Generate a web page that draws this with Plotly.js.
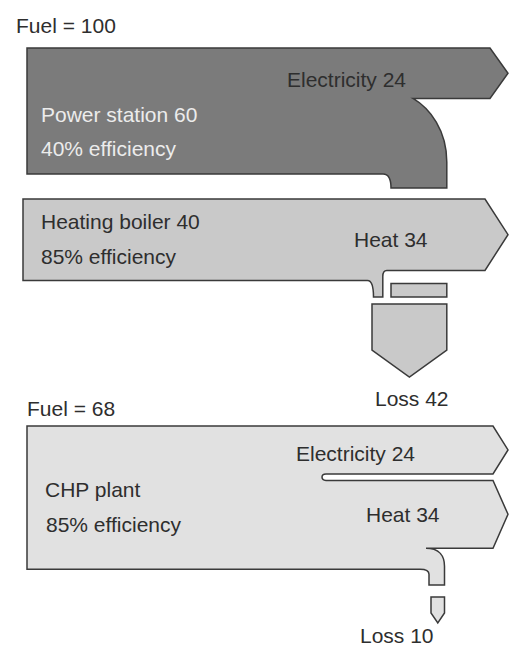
<!DOCTYPE html>
<html>
<head>
<meta charset="utf-8">
<script src="https://cdn.plot.ly/plotly-3.0.1.min.js"></script>
<style>html,body{margin:0;padding:0;background:#fff;}#chart{width:509px;height:648px;}</style>
</head>
<body>
<div id="chart"></div>
<script>
// ---- data ----
const fuelTotals = [100, 68];
const blockNames = ['Power station', 'Heating boiler', 'CHP plant'];
const blockInputs = [60, 40, 68];
const blockEfficiency = [40, 85, 85];
const electricityOut = [24, 0, 24];
const heatOut = [0, 34, 34];
const lossOut = [36, 6, 10];
const totalLoss = [42, 10];

// ---- layout constants (pixel-like data coords) ----
const k = 2.1;    // px per unit for main flows
const kL = 1.55;  // px per unit for loss pipes
const line = {color: '#3a3a3a', width: 1.5};
const fills = ['#7b7b7b', '#c9c9c9', '#e1e1e1'];
const f = v => v.toFixed(1);
const shapes = [];
function addPath(pts, fill) {
  shapes.push({type: 'path', xref: 'x', yref: 'y', path: pts, fillcolor: fill, line: line, layer: 'above'});
}

// Block 0: Power station
(function () {
  const X0 = 27, T = 48, H = blockInputs[0] * k, B = T + H;
  const e = electricityOut[0] * k, AB = 490, TIP = 508;
  const lx = 391, lr = lx + lossOut[0] * kL, ob = 188;
  const p = `M ${X0},${T} L ${AB},${T} L ${TIP},${f(T + e / 2)} L ${AB},${f(T + e)} L 413,${f(T + e)} ` +
    `C 430,${f(T + e + 10)} ${f(lr)},${f(T + e + 32)} ${f(lr)},162 L ${f(lr)},${ob} L ${lx},${ob} ` +
    `C ${lx},${f(B + 5)} ${lx - 3},${f(B)} ${lx - 8},${f(B)} L ${X0},${f(B)} Z`;
  addPath(p, fills[0]);
  // loss pipe passing below the boiler
  addPath(`M ${lx},283.5 L ${f(lr)},283.5 L ${f(lr)},297 L ${lx},297 Z`, fills[1]);
})();

// Block 1: Heating boiler
(function () {
  const X0 = 23, T = 199, H = blockInputs[1] * k * 0.97, B = T + H;
  const h = heatOut[1] * k, HB = T + h, AB = 485, TIP = 508;
  const tl = 373.5, tr = tl + lossOut[1] * kL, tb = 297;
  const p = `M ${X0},${T} L ${AB},${T} L ${TIP},${f(T + h / 2)} L ${AB},${f(HB)} L ${f(tr + 4)},${f(HB)} ` +
    `Q ${f(tr)},${f(HB)} ${f(tr)},${f(HB + 6)} L ${f(tr)},${tb} L ${tl},${tb} ` +
    `C ${tl},${f(B + 7)} ${tl - 2},${f(B)} ${tl - 6},${f(B)} L ${X0},${f(B)} Z`;
  addPath(p, fills[1]);
  // combined loss arrow (Loss 42)
  const px0 = tl - 1.5, px1 = 391 + lossOut[0] * kL, cx = (px0 + px1) / 2;
  addPath(`M ${px0},304 L ${f(px1)},304 L ${f(px1)},350 L ${f(cx)},377 L ${px0},350 Z`, fills[1]);
})();

// Block 2: CHP plant
(function () {
  const X0 = 27, T = 426, AB = 493, TIP = 508, gap = 6.5;
  const e = electricityOut[2] * k * 0.95, eB = T + e, hT = eB + gap;
  const h = heatOut[2] * k * 0.95, hB = hT + h, B = hB + lossOut[2] * k;
  const sx = 323, tl = 429, tr = tl + lossOut[2] * kL, tb = 585;
  const p = `M ${X0},${T} L ${AB},${T} L ${TIP},${f(T + e / 2)} L ${AB},${f(eB)} L ${sx + 3},${f(eB)} ` +
    `Q ${sx - 1},${f(eB)} ${sx - 1},${f((eB + hT) / 2)} Q ${sx - 1},${f(hT)} ${sx + 3},${f(hT)} ` +
    `L ${AB},${f(hT)} L ${TIP},${f(hT + h / 2)} L ${AB},${f(hB)} L ${tl - 3},${f(hB)} ` +
    `C ${f(tr - 5)},${f(hB)} ${f(tr)},${f(hB + 8)} ${f(tr)},${f(hB + 18)} L ${f(tr)},${tb} L ${tl},${tb} ` +
    `L ${tl},${f(B + 5)} C ${tl},${f(B + 1)} ${tl - 4},${f(B)} ${tl - 9},${f(B)} L ${X0},${f(B)} Z`;
  addPath(p, fills[2]);
  const px0 = tl + 2, px1 = tr, cx = (px0 + px1) / 2;
  addPath(`M ${px0},597 L ${f(px1)},597 L ${f(px1)},613 L ${f(cx)},623 L ${px0},613 Z`, fills[2]);
})();

// ---- texts ----
const dark = '#2e2e2e', light = '#ececec';
const fam = 'Liberation Sans, Arial, sans-serif';
function txt(x, y, s, color, anchor, yanchor) {
  return {x: x, y: y, xref: 'x', yref: 'y', text: s, showarrow: false, xanchor: anchor || 'left', yanchor: yanchor || 'middle',
    borderpad: 0, font: {family: fam, size: 21, color: color || dark}};
}
const annotations = [
  txt(15, 25, `Fuel = ${fuelTotals[0]}`),
  txt(286, 79, `Electricity ${electricityOut[0]}`),
  txt(40, 114, `${blockNames[0]} ${blockInputs[0]}`, light),
  txt(40, 148, `${blockEfficiency[0]}% efficiency`, light),
  txt(40, 221, `${blockNames[1]} ${blockInputs[1]}`),
  txt(40, 256, `${blockEfficiency[1]}% efficiency`),
  txt(353, 239, `Heat ${heatOut[1]}`),
  txt(412, 398, `Loss ${totalLoss[0]}`, dark, 'center'),
  txt(26, 408, `Fuel = ${fuelTotals[1]}`),
  txt(295, 453, `Electricity ${electricityOut[2]}`),
  txt(44, 489, `${blockNames[2]}`),
  txt(45, 524, `${blockEfficiency[2]}% efficiency`),
  txt(365, 514, `Heat ${heatOut[2]}`),
  txt(397, 647.5, `Loss ${totalLoss[1]}`, dark, 'center', 'bottom')
];

Plotly.newPlot('chart', [{x: [0], y: [0], mode: 'markers', marker: {opacity: 0}, hoverinfo: 'skip', showlegend: false}], {
  width: 509, height: 648,
  margin: {l: 0, r: 0, t: 0, b: 0},
  paper_bgcolor: '#ffffff', plot_bgcolor: '#ffffff',
  xaxis: {range: [0, 509], visible: false, fixedrange: true},
  yaxis: {range: [648, 0], visible: false, fixedrange: true},
  shapes: shapes,
  annotations: annotations,
  showlegend: false
}, {displayModeBar: false, staticPlot: true});
</script>
</body>
</html>
